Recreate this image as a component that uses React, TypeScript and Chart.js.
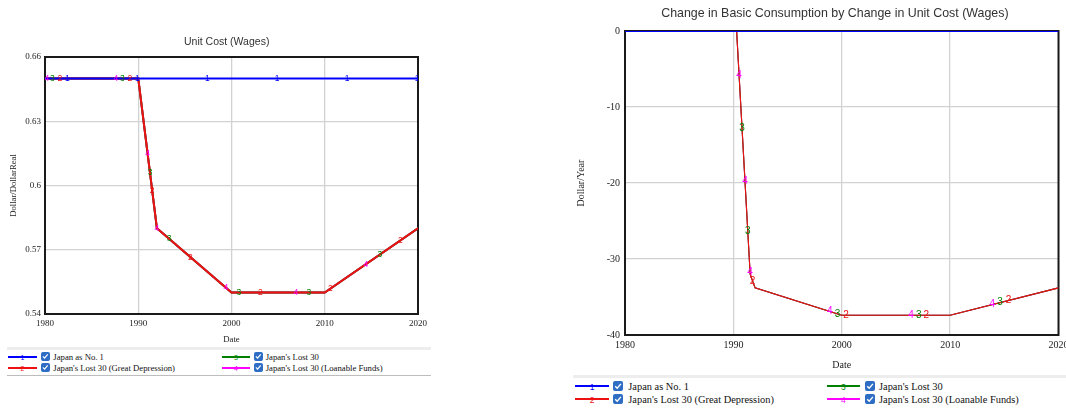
import React, { useEffect, useRef } from 'react';
import { Chart, registerables } from 'chart.js';

Chart.register(...registerables);

// ---------------- Data ----------------
const X_TICKS = [1980, 1990, 2000, 2010, 2020];

const SERIES_NAMES = [
  'Japan as No. 1',
  "Japan's Lost 30 (Great Depression)",
  "Japan's Lost 30",
  "Japan's Lost 30 (Loanable Funds)",
];
const SERIES_DIGITS = ['1', '2', '3', '4'];
const SERIES_COLORS = ['#0000ff', '#ee1111', '#008000', '#ff00ff'];

// Unit Cost (Wages) — Dollar/DollarReal
const UC_YEARS_NO1 = [1980, 2020];
const UC_NO1 = [0.65, 0.65];
const UC_YEARS_LOST = [1980, 1990, 1992, 2000, 2010, 2020];
const UC_LOST_GD = [0.65, 0.65, 0.58, 0.55, 0.55, 0.58];
const UC_LOST = [0.65, 0.65, 0.58, 0.55, 0.55, 0.58];
const UC_LOST_LF = [0.65, 0.65, 0.58, 0.55, 0.55, 0.58];
const UC_Y_TICKS = [0.54, 0.57, 0.6, 0.63, 0.66];
// years where the series number labels sit on each line
const UC_MARKS_1 = [1982.4, 1989.9, 1997.4, 2004.9, 2012.4, 2019.9];
const UC_MARKS_2 = [1981.6, 1989.1, 1991.5, 1995.6, 2003.1, 2010.6, 2018.1];
const UC_MARKS_3 = [1980.8, 1988.3, 1991.26, 1993.3, 2000.8, 2008.3, 2015.9];
const UC_MARKS_4 = [1980.2, 1987.6, 1991.0, 1992.0, 1999.4, 2006.9, 2014.4];

// Change in Basic Consumption by Change in Unit Cost (Wages) — Dollar/Year
const CB_YEARS_NO1 = [1980, 2020];
const CB_NO1 = [0, 0];
const CB_YEARS_LOST = [1980, 1990.3, 1991.55, 1992, 2000, 2010, 2020];
const CB_LOST_GD = [0, 0, -32, -33.8, -37.4, -37.4, -33.8];
const CB_LOST = [0, 0, -32, -33.8, -37.4, -37.4, -33.8];
const CB_LOST_LF = [0, 0, -32, -33.8, -37.4, -37.4, -33.8];
const CB_Y_TICKS = [-40, -30, -20, -10, 0];
const CB_MARKS_1: number[] = [];
const CB_MARKS_2 = [1991.77, 2000.4, 2007.8, 2015.4];
const CB_MARKS_3 = [1990.8, 1991.33, 1999.6, 2007.1, 2014.6];
const CB_MARKS_4 = [1990.53, 1991.07, 1991.54, 1998.9, 2006.4, 2013.9];

// ---------------- Styles ----------------
const SANS = '"Liberation Sans", Arial, sans-serif';
const SERIF = '"Liberation Serif", "Times New Roman", serif';

function interp(xs: number[], ys: number[], x: number): number {
  if (x <= xs[0]) return ys[0];
  for (let i = 1; i < xs.length; i++) {
    if (x <= xs[i]) {
      const t = (x - xs[i - 1]) / (xs[i] - xs[i - 1]);
      return ys[i - 1] + t * (ys[i] - ys[i - 1]);
    }
  }
  return ys[ys.length - 1];
}

type Series = { years: number[]; values: number[]; width: number; marks: number[] };

type Spec = {
  title: string;
  yTitle: string;
  width: number;
  height: number;
  padding: { left: number; right: number; top: number; bottom: number };
  yWidth: number;
  xHeight: number;
  yMin: number;
  yMax: number;
  yTicks: number[];
  series: Series[];
  titleFont: number;
  titleDx: number;
  titleDy: number;
  tickFont: number;
  xTickPad: number;
  yTickPad: number;
  axisTitleFont: number;
  xTitlePadBottom: number;
  yTitlePadTop: number;
  markFont: number;
};

function SimChart({ spec }: { spec: Spec }) {
  const ref = useRef<HTMLCanvasElement | null>(null);
  useEffect(() => {
    if (!ref.current) return;
    const s = spec;
    const decor = {
      id: 'decor',
      beforeDatasetsDraw(chart: any) {
        const { ctx, chartArea: a } = chart;
        ctx.save();
        ctx.strokeStyle = '#1a1a1a';
        ctx.lineWidth = 2;
        ctx.strokeRect(a.left, a.top, a.right - a.left, a.bottom - a.top);
        ctx.restore();
      },
      afterDatasetsDraw(chart: any) {
        const { ctx, chartArea: a, scales } = chart;
        ctx.save();
        ctx.beginPath();
        ctx.rect(a.left, a.top, a.right - a.left, a.bottom - a.top);
        ctx.clip();
        ctx.font = `${s.markFont}px ${SANS}`;
        ctx.textAlign = 'center';
        ctx.textBaseline = 'middle';
        s.series.forEach((ser, i) => {
          ctx.fillStyle = SERIES_COLORS[i];
          ser.marks.forEach((yr) => {
            const v = interp(ser.years, ser.values, yr);
            ctx.fillText(SERIES_DIGITS[i], scales.x.getPixelForValue(yr), scales.y.getPixelForValue(v));
          });
        });
        ctx.restore();
        ctx.save();
        ctx.font = `${s.titleFont}px ${SANS}`;
        ctx.fillStyle = '#333';
        ctx.textAlign = 'center';
        ctx.textBaseline = 'middle';
        ctx.fillText(s.title, (a.left + a.right) / 2 + s.titleDx, a.top + s.titleDy);
        ctx.restore();
      },
    };
    const chart = new Chart(ref.current, {
      type: 'line',
      data: {
        datasets: s.series.map((ser, i) => ({
          label: SERIES_NAMES[i],
          data: ser.years.map((x, j) => ({ x, y: ser.values[j] })),
          borderColor: SERIES_COLORS[i],
          backgroundColor: SERIES_COLORS[i],
          borderWidth: ser.width,
          pointRadius: 0,
          tension: 0,
          fill: false,
        })),
      },
      options: {
        animation: false,
        responsive: false,
        maintainAspectRatio: false,
        events: [],
        layout: { padding: s.padding },
        plugins: {
          legend: { display: false },
          title: { display: false },
          tooltip: { enabled: false },
        },
        scales: {
          x: {
            type: 'linear',
            min: 1980,
            max: 2020,
            afterBuildTicks: (ax: any) => {
              ax.ticks = X_TICKS.map((v) => ({ value: v }));
            },
            ticks: {
              autoSkip: false,
              maxRotation: 0,
              callback: (v: any) => String(v),
              font: { family: SERIF, size: s.tickFont },
              color: '#222',
              padding: s.xTickPad,
            },
            grid: { color: '#d2d2d2', lineWidth: 1.3, drawTicks: false },
            border: { display: false },
            title: {
              display: true,
              text: 'Date',
              font: { family: SERIF, size: s.axisTitleFont },
              color: '#222',
              padding: { top: 0, bottom: s.xTitlePadBottom },
            },
            afterFit: (ax: any) => {
              ax.height = s.xHeight;
            },
          },
          y: {
            type: 'linear',
            min: s.yMin,
            max: s.yMax,
            afterBuildTicks: (ax: any) => {
              ax.ticks = s.yTicks.map((v) => ({ value: v }));
            },
            ticks: {
              autoSkip: false,
              callback: (v: any) => String(v),
              font: { family: SERIF, size: s.tickFont },
              color: '#222',
              padding: s.yTickPad,
            },
            grid: { color: '#d2d2d2', lineWidth: 1.3, drawTicks: false },
            border: { display: false },
            title: {
              display: true,
              text: s.yTitle,
              font: { family: SERIF, size: s.axisTitleFont },
              color: '#222',
              padding: { top: s.yTitlePadTop, bottom: 0 },
            },
            afterFit: (ax: any) => {
              ax.width = s.yWidth;
            },
          },
        },
      } as any,
      plugins: [decor],
    });
    return () => chart.destroy();
  }, [spec]);
  return <canvas ref={ref} width={spec.width} height={spec.height} style={{ display: 'block' }} />;
}

type LegendSpec = {
  left: number;
  width: number;
  bandTop: number;
  bottomLine: number | null;
  rows: number[];
  cols: { lineX: number; lineW: number; boxX: number; textX: number }[];
  box: number;
  font: number;
  digitFont: number;
};

function Legend({ spec }: { spec: LegendSpec }) {
  // layout: row 0 -> series 0, 2 ; row 1 -> series 1, 3
  const grid = [
    [0, 2],
    [1, 3],
  ];
  const els: any[] = [];
  els.push(
    <div
      key="band"
      style={{ position: 'absolute', left: spec.left, top: spec.bandTop, width: spec.width, height: 3, background: '#ededed' }}
    />
  );
  if (spec.bottomLine !== null) {
    els.push(
      <div
        key="bl"
        style={{ position: 'absolute', left: spec.left, top: spec.bottomLine, width: spec.width, height: 1, background: '#bdbdbd' }}
      />
    );
  }
  grid.forEach((row, r) => {
    row.forEach((si, c) => {
      const col = spec.cols[c];
      const cy = spec.rows[r];
      els.push(
        <div
          key={`l${si}`}
          style={{ position: 'absolute', left: col.lineX, top: cy - 1, width: col.lineW, height: 2, background: SERIES_COLORS[si] }}
        />
      );
      els.push(
        <div
          key={`d${si}`}
          style={{
            position: 'absolute',
            left: col.lineX,
            width: col.lineW,
            top: cy - spec.digitFont / 2 + 0.5,
            height: spec.digitFont,
            lineHeight: `${spec.digitFont}px`,
            textAlign: 'center',
            font: `${spec.digitFont}px ${SANS}`,
            color: SERIES_COLORS[si],
          }}
        >
          {SERIES_DIGITS[si]}
        </div>
      );
      els.push(
        <div
          key={`b${si}`}
          style={{
            position: 'absolute',
            left: col.boxX,
            top: cy - spec.box / 2,
            width: spec.box,
            height: spec.box,
            background: '#2e6dc4',
            borderRadius: 2,
          }}
        >
          <svg width={spec.box} height={spec.box} viewBox="0 0 10 10" style={{ display: 'block' }}>
            <path d="M2.2 5.2 L4.2 7.2 L7.9 2.9" stroke="#fff" strokeWidth="1.4" fill="none" />
          </svg>
        </div>
      );
      els.push(
        <div
          key={`t${si}`}
          style={{
            position: 'absolute',
            left: col.textX,
            top: cy - spec.font / 2,
            height: spec.font,
            lineHeight: `${spec.font}px`,
            font: `${spec.font}px ${SERIF}`,
            color: '#111',
            whiteSpace: 'nowrap',
          }}
        >
          {SERIES_NAMES[si]}
        </div>
      );
    });
  });
  return <>{els}</>;
}

const LEFT_SPEC: Spec = {
  title: 'Unit Cost (Wages)',
  yTitle: 'Dollar/DollarReal',
  width: 440,
  height: 346,
  padding: { left: 0, right: 22, top: 57, bottom: 0 },
  yWidth: 45,
  xHeight: 32,
  yMin: 0.54,
  yMax: 0.66,
  yTicks: UC_Y_TICKS,
  series: [
    { years: UC_YEARS_NO1, values: UC_NO1, width: 2, marks: UC_MARKS_1 },
    { years: UC_YEARS_LOST, values: UC_LOST_GD, width: 2, marks: UC_MARKS_2 },
    { years: UC_YEARS_LOST, values: UC_LOST, width: 2, marks: UC_MARKS_3 },
    { years: UC_YEARS_LOST, values: UC_LOST_LF, width: 2, marks: UC_MARKS_4 },
  ],
  titleFont: 10.5,
  titleDx: -4.8,
  titleDy: -15.3,
  tickFont: 9,
  xTickPad: 4,
  yTickPad: 4,
  axisTitleFont: 8.7,
  xTitlePadBottom: 0.7,
  yTitlePadTop: 8.1,
  markFont: 8.5,
};

const RIGHT_SPEC: Spec = {
  title: 'Change in Basic Consumption by Change in Unit Cost (Wages)',
  yTitle: 'Dollar/Year',
  width: 510,
  height: 372,
  padding: { left: 0, right: 23.5, top: 31, bottom: 0 },
  yWidth: 53,
  xHeight: 37,
  yMin: -40,
  yMax: 0,
  yTicks: CB_Y_TICKS,
  series: [
    { years: CB_YEARS_NO1, values: CB_NO1, width: 2, marks: CB_MARKS_1 },
    { years: CB_YEARS_LOST, values: CB_LOST_GD, width: 1.1, marks: CB_MARKS_2 },
    { years: CB_YEARS_LOST, values: CB_LOST, width: 1.1, marks: CB_MARKS_3 },
    { years: CB_YEARS_LOST, values: CB_LOST_LF, width: 1.1, marks: CB_MARKS_4 },
  ],
  titleFont: 12.4,
  titleDx: -6.9,
  titleDy: -17,
  tickFont: 10,
  xTickPad: 4.7,
  yTickPad: 5,
  axisTitleFont: 10,
  xTitlePadBottom: 1,
  yTitlePadTop: 3.7,
  markFont: 10,
};

const LEFT_LEGEND: LegendSpec = {
  left: 7,
  width: 424,
  bandTop: 347,
  bottomLine: 375,
  rows: [356.7, 367.7],
  cols: [
    { lineX: 8.3, lineW: 28.4, boxX: 41, textX: 53.3 },
    { lineX: 221.7, lineW: 28.3, boxX: 254.3, textX: 265.7 },
  ],
  box: 8.5,
  font: 8.7,
  digitFont: 7,
};

const RIGHT_LEGEND: LegendSpec = {
  left: 573,
  width: 493,
  bandTop: 375,
  bottomLine: null,
  rows: [386, 398.7],
  cols: [
    { lineX: 575, lineW: 34.3, boxX: 613.3, textX: 628.3 },
    { lineX: 826.7, lineW: 33.3, boxX: 865, textX: 879 },
  ],
  box: 10,
  font: 10.4,
  digitFont: 8.5,
};

export default function App() {
  return (
    <div
      style={{
        position: 'absolute',
        left: 0,
        top: 0,
        width: 1066,
        height: 409,
        overflow: 'hidden',
        background: '#fff',
      }}
    >
      <div style={{ position: 'absolute', left: 0, top: 0, width: 440, height: 346, overflow: 'hidden' }}>
        <SimChart spec={LEFT_SPEC} />
      </div>
      <div style={{ position: 'absolute', left: 572, top: 0, width: 494, height: 372, overflow: 'hidden' }}>
        <SimChart spec={RIGHT_SPEC} />
      </div>
      <Legend spec={LEFT_LEGEND} />
      <Legend spec={RIGHT_LEGEND} />
    </div>
  );
}
